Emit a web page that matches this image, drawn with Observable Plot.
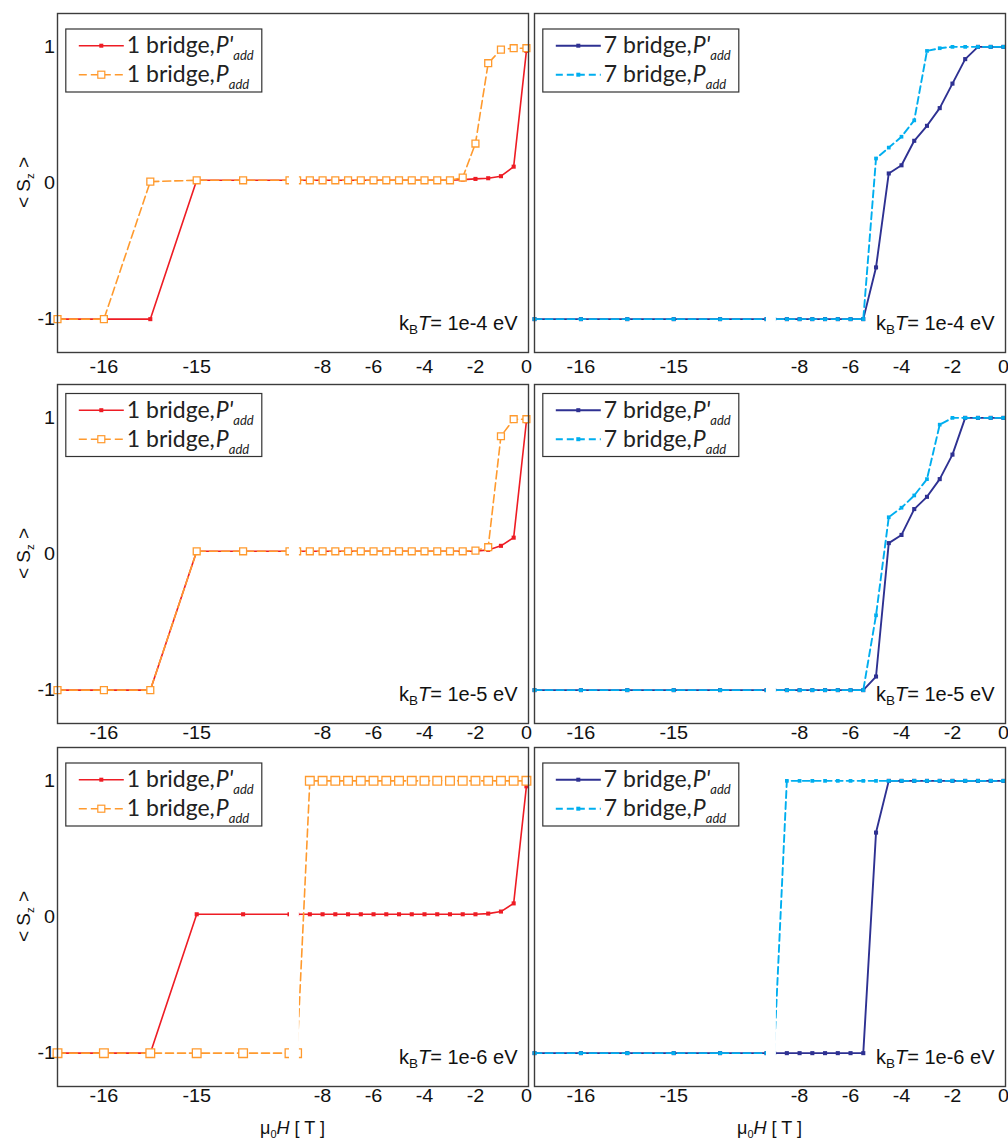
<!DOCTYPE html>
<html>
<head>
<meta charset="utf-8">
<script src="https://cdn.jsdelivr.net/npm/d3@7"></script>
<script src="https://cdn.jsdelivr.net/npm/@observablehq/plot@0.6"></script>
<style>
  body { margin: 0; background: #fff; }
  #fig { position: relative; width: 1008px; height: 1143px; background: #fff; overflow: hidden; }
  #fig svg { position: absolute; }
</style>
</head>
<body>
<div id="fig"></div>
<script>
// ---------------- DATA ----------------
// applied field mu0 H [T] (broken axis: -16.5..-14 | -9..0)
const fieldH = [-16.5, -16, -15.5, -15, -14.5, -14,
  -9, -8.5, -8, -7.5, -7, -6.5, -6, -5.5, -5, -4.5, -4, -3.5, -3, -2.5, -2, -1.5, -1, -0.5, 0];
const xTicks = [-16, -15, -8, -6, -4, -2, 0];
const yTicks = [-1, 0, 1];
const axisBreak = [-14, -9];
const temperatures = ["1e-4", "1e-5", "1e-6"];
const bridges = ["1", "7"];

// 1 bridge, P'add (red) and P add (orange)
const b1_Pprime_T4 = [-1, -1, -1, 0.02, 0.02, 0.02,
  0.02, 0.02, 0.02, 0.02, 0.02, 0.02, 0.02, 0.02, 0.02, 0.02, 0.02, 0.02, 0.02, 0.025, 0.03, 0.035, 0.05, 0.12, 0.97];
const b1_P_T4 = [-1, -1, 0.01, 0.02, 0.02, 0.02,
  0.02, 0.02, 0.02, 0.02, 0.02, 0.02, 0.02, 0.02, 0.02, 0.02, 0.02, 0.02, 0.02, 0.04, 0.29, 0.88, 0.98, 0.99, 0.99];
const b1_Pprime_T5 = [-1, -1, -1, 0.02, 0.02, 0.02,
  0.02, 0.02, 0.02, 0.02, 0.02, 0.02, 0.02, 0.02, 0.02, 0.02, 0.02, 0.02, 0.02, 0.02, 0.02, 0.03, 0.06, 0.12, 0.975];
const b1_P_T5 = [-1, -1, -1, 0.02, 0.02, 0.02,
  0.02, 0.02, 0.02, 0.02, 0.02, 0.02, 0.02, 0.02, 0.02, 0.02, 0.02, 0.02, 0.02, 0.02, 0.025, 0.05, 0.865, 0.99, 0.99];
const b1_Pprime_T6 = [-1, -1, -1, 0.02, 0.02, 0.02,
  0.02, 0.02, 0.02, 0.02, 0.02, 0.02, 0.02, 0.02, 0.02, 0.02, 0.02, 0.02, 0.02, 0.02, 0.02, 0.025, 0.04, 0.1, 0.96];
const b1_P_T6 = [-1, -1, -1, -1, -1, -1,
  -1, 1, 1, 1, 1, 1, 1, 1, 1, 1, 1, 1, 1, 1, 1, 1, 1, 1, 1];

// 7 bridge, P'add (navy) and P add (cyan)
const b7_Pprime_T4 = [-1, -1, -1, -1, -1, -1,
  -1, -1, -1, -1, -1, -1, -1, -1, -0.62, 0.07, 0.13, 0.31, 0.42, 0.55, 0.73, 0.91, 1, 1, 1];
const b7_P_T4 = [-1, -1, -1, -1, -1, -1,
  -1, -1, -1, -1, -1, -1, -1, -1, 0.18, 0.26, 0.34, 0.46, 0.97, 0.99, 1, 1, 1, 1, 1];
const b7_Pprime_T5 = [-1, -1, -1, -1, -1, -1,
  -1, -1, -1, -1, -1, -1, -1, -1, -0.9, 0.08, 0.14, 0.33, 0.42, 0.55, 0.73, 1, 1, 1, 1];
const b7_P_T5 = [-1, -1, -1, -1, -1, -1,
  -1, -1, -1, -1, -1, -1, -1, -1, -0.45, 0.27, 0.34, 0.43, 0.55, 0.95, 1, 1, 1, 1, 1];
const b7_Pprime_T6 = [-1, -1, -1, -1, -1, -1,
  -1, -1, -1, -1, -1, -1, -1, -1, 0.62, 1, 1, 1, 1, 1, 1, 1, 1, 1, 1];
const b7_P_T6 = [-1, -1, -1, -1, -1, -1,
  -1, 1, 1, 1, 1, 1, 1, 1, 1, 1, 1, 1, 1, 1, 1, 1, 1, 1, 1];

// ---------------- LAYOUT / STYLE ----------------
const fig = document.getElementById("fig");
const frameW = 471, frameH = 339;
const rowTops = [12.5, 384, 747.3];
const legendOffsets = [16, 9.5, 16];
const tickPads = [7.5, 3, 3];
const colLeft = [0, 531];
const colWidth = [531, 477];
const colMarginLeft = [57, 3];
const yDomain = [-1.245, 1.245];
const xStart = -16.5;
const segA = 92.8, gapPx = 7.6, segB = 25.48;  // px per unit on each side of the break
const gapEnd = -8.91;
const tickFont = "'Liberation Sans', Arial, sans-serif";
const legendFont = "Lato, 'Open Sans', sans-serif";

// broken-axis transform for the x scale (left piece, break, right piece)
function brokenAxis(h) {
  const a = (axisBreak[0] - xStart) * segA;
  if (h <= axisBreak[0]) return (h - xStart) * segA;
  if (h < axisBreak[1]) return a + (h - axisBreak[0]) / (axisBreak[1] - axisBreak[0]) * gapPx;
  return a + gapPx + (h - axisBreak[1]) * segB;
}

const styles = [
  {pp: "#ee1c24", p: "#ff9a2e", pOpen: true, ppW: 1.6, pW: 1.6, dash: "8,4"},
  {pp: "#2e3192", p: "#00aeef", pOpen: false, ppW: 1.9, pW: 1.9, dash: "7,4"}
];
const seriesTable = [
  [[b1_Pprime_T4, b1_P_T4], [b7_Pprime_T4, b7_P_T4]],
  [[b1_Pprime_T5, b1_P_T5], [b7_Pprime_T5, b7_P_T5]],
  [[b1_Pprime_T6, b1_P_T6], [b7_Pprime_T6, b7_P_T6]]
];

function panel(row, col) {
  const st = styles[col];
  const [pp, p] = seriesTable[row][col];
  const data = fieldH.map((h, i) => ({H: h, Pp: pp[i], P: p[i]}));
  const mL = colMarginLeft[col], mT = 12;
  const mB = row === 2 ? 58 : 28;
  const width = colWidth[col];
  const height = mT + frameH + mB;
  const openR = row === 2 ? 4.9 : 3.9;

  const marks = [
    Plot.line(data, {x: "H", y: "Pp", stroke: st.pp, strokeWidth: st.ppW}),
    Plot.dot(data, {x: "H", y: "Pp", symbol: "square", r: 2.3, fill: st.pp, stroke: "none"}),
    Plot.line(data, {x: "H", y: "P", stroke: st.p, strokeWidth: st.pW, strokeDasharray: st.dash}),
    st.pOpen
      ? Plot.dot(data, {x: "H", y: "P", symbol: "square", r: openR, fill: "white", stroke: st.p, strokeWidth: 1.3})
      : Plot.dot(data, {x: "H", y: "P", symbol: "square", r: 2.1, fill: st.p, stroke: "none"}),
    Plot.rect([axisBreak], {x1: d => d[0] + 0.004, x2: () => gapEnd, y1: () => yDomain[0], y2: () => yDomain[1], fill: "white"}),
    Plot.frame({stroke: "#3c3c3c", strokeWidth: 1.4}),
    // x tick labels, positioned through the (broken) x scale
    Plot.text(xTicks, {x: d => d, text: d => String(d), frameAnchor: "bottom", lineAnchor: "top",
      dy: tickPads[row], fontSize: 18, fill: "#111"})
  ];
  if (col === 0) {
    marks.push(Plot.text(yTicks, {y: d => d, text: d => String(d), frameAnchor: "left", textAnchor: "end",
      dx: -2.4, fontSize: 18, fill: "#111"}));
  }

  const svg = Plot.plot({
    width, height,
    marginLeft: mL, marginRight: width - mL - frameW, marginTop: mT, marginBottom: mB,
    style: {background: "transparent", fontFamily: tickFont, fontSize: "18px", overflow: "visible"},
    x: {transform: brokenAxis, domain: [0, frameW], label: null, axis: null},
    y: {domain: yDomain, label: null, axis: null},
    marks
  });
  svg.style.left = colLeft[col] + "px";
  svg.style.top = (rowTops[row] - mT) + "px";

  // tick labels in the reference are drawn slightly wide: stretch each about its anchor
  svg.querySelectorAll("g[aria-label='text'] text").forEach(t => {
    const tr = t.getAttribute("transform");
    if (tr && tr.includes("translate")) t.setAttribute("transform", tr + " scale(1.1,1)");
  });

  const s = d3.select(svg);
  // legend
  const lg = s.append("g").attr("transform", `translate(${mL + 8.8},${mT + legendOffsets[row]})`);
  lg.append("rect").attr("width", 196).attr("height", 63).attr("fill", "white")
    .attr("stroke", "#333").attr("stroke-width", 1.2);
  const entries = [
    {y: 16.7, color: st.pp, w: st.ppW, dash: null, prime: true},
    {y: 45.7, color: st.p, w: st.pW, dash: st.dash, prime: false}
  ];
  entries.forEach(e => {
    const ln = lg.append("line").attr("x1", 13).attr("x2", 58).attr("y1", e.y).attr("y2", e.y)
      .attr("stroke", e.color).attr("stroke-width", e.w);
    if (e.dash) ln.attr("stroke-dasharray", e.dash);
    if (!e.prime && st.pOpen) {
      lg.append("rect").attr("x", 35.5 - 3.5).attr("y", e.y - 3.5).attr("width", 7).attr("height", 7)
        .attr("fill", "white").attr("stroke", e.color).attr("stroke-width", 1.2);
    } else {
      lg.append("rect").attr("x", 35.5 - 2).attr("y", e.y - 2).attr("width", 4).attr("height", 4).attr("fill", e.color);
    }
    const t = lg.append("text").attr("x", 61).attr("y", e.y + 7.5).attr("text-anchor", "start")
      .style("font-family", legendFont).style("font-size", "23px").attr("fill", "#222");
    t.append("tspan").text(`${bridges[col]} bridge,`);
    t.append("tspan").attr("dx", 1).attr("font-style", "italic").text(e.prime ? "P'" : "P");
    t.append("tspan").attr("dy", 7).attr("font-style", "italic").style("font-size", "13px").text("add");
  });

  // temperature label
  const kt = s.append("text").attr("x", mL + frameW - 10.5).attr("y", mT + frameH - 22)
    .attr("text-anchor", "end").style("font-family", tickFont).style("font-size", "20px").attr("fill", "#111");
  kt.append("tspan").text("k");
  kt.append("tspan").attr("dy", 4).style("font-size", "13.5px").text("B");
  kt.append("tspan").attr("dy", -4).attr("font-style", "italic").text("T");
  kt.append("tspan").text(`= ${temperatures[row]} eV`);

  // y label
  if (col === 0) {
    const yl = s.append("text").attr("transform", `translate(30,${mT + frameH / 2}) rotate(-90)`)
      .attr("text-anchor", "middle").style("font-family", tickFont).style("font-size", "19px").attr("fill", "#111");
    yl.append("tspan").text("< S");
    yl.append("tspan").attr("dy", 4).style("font-size", "11.5px").text("z");
    yl.append("tspan").attr("dy", -4).text(" >");
  }
  // x label
  if (row === 2) {
    const xl = s.append("text").attr("x", mL + frameW / 2).attr("y", mT + frameH + 47.5)
      .attr("text-anchor", "middle").style("font-family", tickFont).style("font-size", "18px").attr("fill", "#111");
    xl.append("tspan").text("μ");
    xl.append("tspan").attr("dy", 4).style("font-size", "11px").text("0");
    xl.append("tspan").attr("dy", -4).attr("font-style", "italic").text("H");
    xl.append("tspan").text(" [ T ]");
  }
  fig.appendChild(svg);
}

for (let r = 0; r < 3; r++) for (let c = 0; c < 2; c++) panel(r, c);
</script>
</body>
</html>
